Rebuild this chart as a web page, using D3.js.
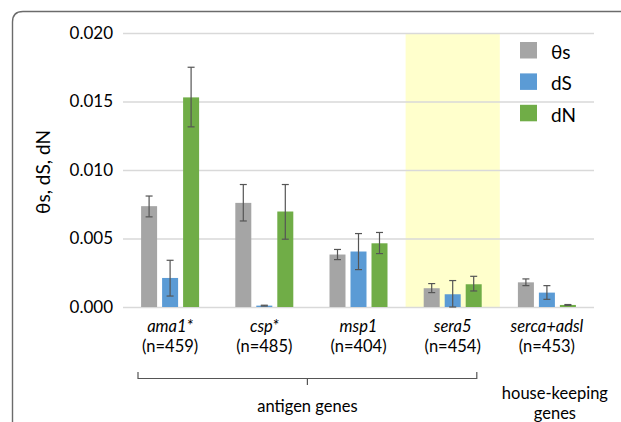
<!DOCTYPE html>
<html>
<head>
<meta charset="utf-8">
<script src="https://cdn.jsdelivr.net/npm/d3@7"></script>
<style>
  body { margin: 0; background: #fff; }
  svg { display: block; font-family: Lato, "Open Sans", sans-serif; }
</style>
</head>
<body>
<div id="chart"></div>
<script>
(function () {
    'use strict';

    // data
    var genes = ['ama1*', 'csp*', 'msp1', 'sera5', 'serca+adsl'];
    var sampleSizes = ['(n=459)', '(n=485)', '(n=404)', '(n=454)', '(n=453)'];
    var seriesNames = ['θs', 'dS', 'dN'];
    var seriesColors = ['#a5a5a5', '#5b9bd5', '#70ad47'];

    var thetaS = [0.00736, 0.00760, 0.00383, 0.00137, 0.00180];
    var thetaSLow = [0.00658, 0.00628, 0.00346, 0.00105, 0.00156];
    var thetaSHigh = [0.00810, 0.00894, 0.00420, 0.00171, 0.00205];

    var dS = [0.00212, 0.00010, 0.00405, 0.00093, 0.00105];
    var dSLow = [0.00080, 0.00007, 0.00273, 0.00000, 0.00056];
    var dSHigh = [0.00341, 0.00013, 0.00536, 0.00193, 0.00156];

    var dN = [0.01530, 0.00697, 0.00465, 0.00166, 0.00015];
    var dNLow = [0.01315, 0.00495, 0.00390, 0.00117, 0.00012];
    var dNHigh = [0.01750, 0.00894, 0.00544, 0.00224, 0.00018];

    var yTicks = [0, 0.005, 0.010, 0.015, 0.020];
    var highlightGene = 'sera5';

    var width = 621, height = 422;
    var plotLeft = 123, plotRight = 594, plotTop = 33, plotBottom = 307;
    var labelSize = '16.5px';

    var svg = d3.select('#chart').append('svg')
        .attr('width', width)
        .attr('height', height);

    // frame (rounded box cut by the picture edge)
    svg.append('path')
        .attr('d', 'M12.5,430 L12.5,22 Q12.5,11.5 23,11.5 L630,11.5')
        .attr('fill', 'none')
        .attr('stroke', '#6b6b6b')
        .attr('stroke-width', 1.4);

    var x = d3.scaleBand()
        .domain(genes)
        .range([plotLeft, plotRight]);

    var inner = d3.scaleBand()
        .domain(seriesNames)
        .range([-29, 29])
        .paddingInner(0.238);

    var y = d3.scaleLinear()
        .domain([0, 0.020])
        .range([plotBottom, plotTop]);

    // highlight band
    svg.append('rect')
        .attr('x', x(highlightGene))
        .attr('y', y(0.020))
        .attr('width', x.bandwidth())
        .attr('height', y(0) - y(0.020))
        .attr('fill', '#ffffcc');

    // grid
    var yAxis = d3.axisLeft(y)
        .tickValues(yTicks)
        .tickFormat(d3.format('.3f'))
        .tickSize(-(plotRight - plotLeft))
        .tickPadding(10);

    var gy = svg.append('g')
        .attr('transform', 'translate(' + plotLeft + ',0)')
        .call(yAxis);
    gy.select('.domain').remove();
    gy.selectAll('.tick line').attr('stroke', '#d9d9d9').attr('stroke-width', 1.3);
    gy.selectAll('.tick text')
        .attr('fill', '#000')
        .style('font-size', '17px')
        .style('font-family', 'Lato, "Open Sans", sans-serif');

    // bars
    var series = [
        { name: seriesNames[0], values: thetaS, low: thetaSLow, high: thetaSHigh },
        { name: seriesNames[1], values: dS, low: dSLow, high: dSHigh },
        { name: seriesNames[2], values: dN, low: dNLow, high: dNHigh }
    ];

    var rows = [];
    series.forEach(function (s, si) {
        genes.forEach(function (g, gi) {
            rows.push({ gene: g, series: s.name, color: seriesColors[si],
                value: s.values[gi], low: s.low[gi], high: s.high[gi] });
        });
    });

    function barX(d) { return x(d.gene) + x.bandwidth() / 2 + inner(d.series); }

    svg.append('g').selectAll('rect')
        .data(rows)
        .enter().append('rect')
        .attr('x', barX)
        .attr('y', function (d) { return y(d.value); })
        .attr('width', inner.bandwidth())
        .attr('height', function (d) { return y(0) - y(d.value); })
        .attr('fill', function (d) { return d.color; });

    // error bars
    var err = svg.append('g').selectAll('g')
        .data(rows)
        .enter().append('g')
        .attr('stroke', '#555')
        .attr('stroke-width', 1.2);
    err.append('line')
        .attr('x1', function (d) { return barX(d) + inner.bandwidth() / 2; })
        .attr('x2', function (d) { return barX(d) + inner.bandwidth() / 2; })
        .attr('y1', function (d) { return y(d.low); })
        .attr('y2', function (d) { return y(d.high); });
    ['low', 'high'].forEach(function (k) {
        err.append('line')
            .attr('x1', function (d) { return barX(d) + inner.bandwidth() / 2 - 3.5; })
            .attr('x2', function (d) { return barX(d) + inner.bandwidth() / 2 + 3.5; })
            .attr('y1', function (d) { return y(d[k]); })
            .attr('y2', function (d) { return y(d[k]); });
    });

    // x labels
    var xl = svg.append('g').selectAll('g')
        .data(genes)
        .enter().append('g')
        .attr('transform', function (d) { return 'translate(' + (x(d) + x.bandwidth() / 2) + ',0)'; });
    xl.append('text')
        .attr('y', 332)
        .attr('text-anchor', 'middle')
        .style('font-size', labelSize)
        .style('font-style', 'italic')
        .text(function (d) { return d; });
    xl.append('text')
        .attr('y', 352)
        .attr('text-anchor', 'middle')
        .style('font-size', labelSize)
        .text(function (d, i) { return sampleSizes[i]; });

    // y title
    svg.append('text')
        .attr('transform', 'translate(50,172) rotate(-90)')
        .attr('text-anchor', 'middle')
        .style('font-size', '19px')
        .text('θs, dS, dN');

    // bracket for antigen genes
    var bx0 = x(genes[0]) + 15, bx1 = x(genes[3]) + x.bandwidth() - 23;
    var bmid = (bx0 + bx1) / 2;
    svg.append('path')
        .attr('d', 'M' + bx0 + ',372 L' + bx0 + ',378.5 L' + bx1 + ',378.5 L' + bx1 + ',372 M' + bmid + ',378.5 L' + bmid + ',385')
        .attr('fill', 'none')
        .attr('stroke', '#555')
        .attr('stroke-width', 1.2);

    svg.append('text')
        .attr('x', bmid)
        .attr('y', 412)
        .attr('text-anchor', 'middle')
        .style('font-size', labelSize)
        .text('antigen genes');

    svg.append('text')
        .attr('x', x(genes[4]) + x.bandwidth() / 2 + 8)
        .attr('y', 399)
        .attr('text-anchor', 'middle')
        .style('font-size', labelSize)
        .text('house-keeping');
    svg.append('text')
        .attr('x', x(genes[4]) + x.bandwidth() / 2 + 8)
        .attr('y', 419)
        .attr('text-anchor', 'middle')
        .style('font-size', labelSize)
        .text('genes');

    // legend
    var legend = svg.append('g').selectAll('g')
        .data(seriesNames)
        .enter().append('g')
        .attr('transform', function (d, i) { return 'translate(520,' + (42 + i * 31.4) + ')'; });
    legend.append('rect')
        .attr('width', 17)
        .attr('height', 16.5)
        .attr('fill', function (d, i) { return seriesColors[i]; });
    legend.append('text')
        .attr('x', 31)
        .attr('y', 17)
        .style('font-size', '19px')
        .text(function (d) { return d; });
})();
</script>
</body>
</html>
